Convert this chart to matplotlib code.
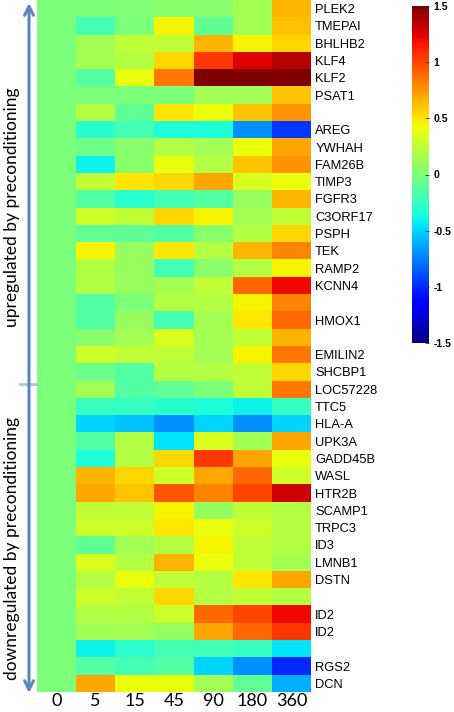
import numpy as np
import matplotlib
matplotlib.use('Agg')
import matplotlib.pyplot as plt

times = ['0', '5', '15', '45', '90', '180', '360']
genes = ['PLEK2', 'TMEPAI', 'BHLHB2', 'KLF4', 'KLF2', 'PSAT1', '', 'AREG', 'YWHAH', 'FAM26B',
         'TIMP3', 'FGFR3', 'C3ORF17', 'PSPH', 'TEK', 'RAMP2', 'KCNN4', '', 'HMOX1', '',
         'EMILIN2', 'SHCBP1', 'LOC57228', 'TTC5', 'HLA-A', 'UPK3A', 'GADD45B', 'WASL', 'HTR2B', 'SCAMP1',
         'TRPC3', 'ID3', 'LMNB1', 'DSTN', '', 'ID2', 'ID2', '', 'RGS2', 'DCN']

# log fold change, one row per gene, columns = minutes
expr = np.array([
    [0, 0.00, 0.02, 0.05, 0.05, 0.15, 0.65],
    [0, -0.20, 0.00, 0.45, -0.10, 0.15, 0.62],
    [0, 0.15, 0.25, 0.25, 0.65, 0.45, 0.55],
    [0, 0.15, 0.20, 0.55, 1.05, 1.25, 1.35],
    [0, -0.15, 0.40, 0.85, 1.50, 1.50, 1.50],
    [0, 0.00, 0.00, 0.00, 0.15, 0.15, 0.60],
    [0, 0.20, -0.10, 0.50, 0.40, 0.60, 0.75],
    [0, -0.30, -0.20, -0.35, -0.35, -0.70, -0.95],
    [0, -0.05, 0.05, 0.20, 0.15, 0.40, 0.70],
    [0, -0.40, 0.05, 0.40, 0.20, 0.60, 0.75],
    [0, 0.25, 0.50, 0.55, 0.70, 0.35, 0.40],
    [0, -0.15, -0.30, -0.20, -0.15, 0.10, 0.65],
    [0, 0.30, 0.25, 0.55, 0.45, 0.15, 0.25],
    [0, -0.10, -0.10, -0.15, 0.05, 0.20, 0.55],
    [0, 0.45, 0.10, 0.50, 0.20, 0.65, 0.80],
    [0, 0.20, 0.10, -0.20, 0.05, 0.20, 0.45],
    [0, 0.20, 0.10, 0.15, 0.25, 0.90, 1.20],
    [0, -0.15, 0.00, 0.20, 0.20, 0.45, 0.80],
    [0, -0.15, 0.10, -0.20, 0.15, 0.50, 0.90],
    [0, 0.05, 0.15, 0.35, 0.15, 0.25, 0.65],
    [0, 0.30, 0.25, 0.25, 0.15, 0.45, 0.85],
    [0, -0.05, -0.15, 0.20, 0.20, 0.25, 0.55],
    [0, 0.15, -0.15, -0.10, 0.00, 0.25, 0.85],
    [0, -0.25, -0.25, -0.30, -0.35, -0.40, -0.25],
    [0, -0.50, -0.55, -0.70, -0.50, -0.70, -0.50],
    [0, -0.15, 0.20, -0.45, 0.35, 0.15, 0.70],
    [0, -0.35, 0.20, 0.55, 1.05, 0.70, 0.40],
    [0, 0.65, 0.55, 0.30, 0.70, 0.90, 0.30],
    [0, 0.70, 0.60, 0.95, 0.80, 1.00, 1.30],
    [0, 0.25, 0.25, 0.45, 0.10, 0.25, 0.20],
    [0, 0.30, 0.30, 0.50, 0.40, 0.30, 0.20],
    [0, -0.10, 0.15, 0.20, 0.45, 0.25, 0.20],
    [0, 0.35, 0.20, 0.65, 0.40, 0.25, 0.15],
    [0, 0.20, 0.40, 0.25, 0.20, 0.50, 0.70],
    [0, 0.30, 0.25, 0.55, 0.20, 0.25, 0.20],
    [0, 0.20, 0.20, 0.30, 0.90, 1.00, 1.20],
    [0, 0.15, 0.15, 0.10, 0.70, 0.90, 1.05],
    [0, -0.40, -0.30, -0.20, -0.20, -0.25, -0.45],
    [0, -0.15, -0.20, -0.15, -0.50, -0.70, -1.00],
    [0, 0.70, 0.40, 0.40, 0.15, -0.10, -0.60],
])
cbar_ticks = [-1.5, -1, -0.5, 0, 0.5, 1, 1.5]

W, H = 454, 712
fig = plt.figure(figsize=(W / 100, H / 100), dpi=100)

ax = fig.add_axes([37 / W, 20 / H, 274 / W, 692 / H])
im = ax.imshow(expr, cmap='jet', vmin=-1.5, vmax=1.5, aspect='auto', interpolation='nearest')
ax.set_xticks(range(len(times)))
ax.set_xticklabels(times, fontsize=13, family='Lato')
ax.set_yticks(range(len(genes)))
ax.set_yticklabels(genes, fontsize=9.3, family='Liberation Sans')
ax.yaxis.tick_right()
ax.tick_params(length=0)
ax.tick_params(axis='y', pad=3)
ax.tick_params(axis='x', pad=1)
for s in ax.spines.values():
    s.set_visible(False)

cax = fig.add_axes([412 / W, (H - 343) / H, 17 / W, 337 / H])
cb = fig.colorbar(im, cax=cax, ticks=cbar_ticks)
cb.ax.set_yticklabels(['%g' % t for t in cbar_ticks], fontsize=7.5, fontweight='bold',
                      family='Liberation Sans')
cb.ax.tick_params(direction='in', length=3, width=0.6, pad=3, color='#333333')
cb.outline.set_visible(False)

# overlay in pixel coords for the bracket arrow and group labels
ov = fig.add_axes([0, 0, 1, 1])
ov.set_xlim(0, W)
ov.set_ylim(H, 0)
ov.axis('off')
ov.annotate('', xy=(29, 3), xytext=(29, 693),
            arrowprops=dict(arrowstyle='<->', color='#5b84bb', lw=2.2, mutation_scale=16,
                            shrinkA=0, shrinkB=0))
ov.plot([20, 37], [384, 384], color='#a9c7dc', lw=2)
ov.text(12, 207, 'upregulated by preconditioning', rotation=90, ha='center', va='center',
        fontsize=12.5, family='Lato')
ov.text(12, 548, 'downregulated by preconditioning', rotation=90, ha='center', va='center',
        fontsize=12.5, family='Lato')

fig.savefig('out.png', dpi=100)
